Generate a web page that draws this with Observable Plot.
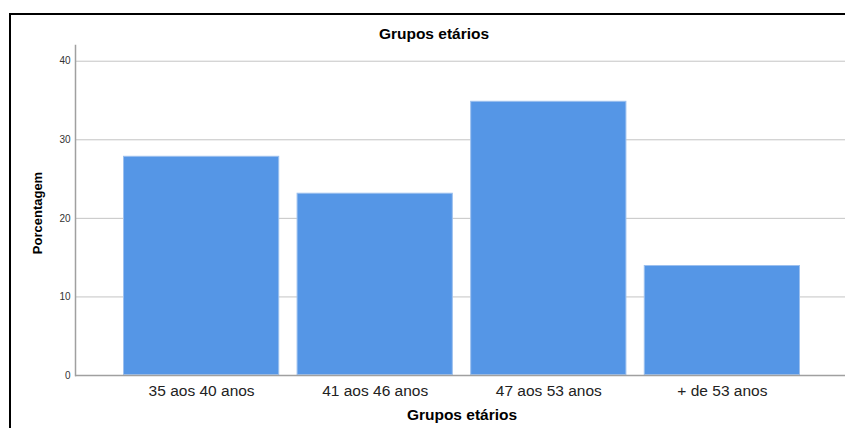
<!DOCTYPE html>
<html>
<head>
<meta charset="utf-8">
<script src="https://cdn.jsdelivr.net/npm/d3@7"></script>
<script src="https://cdn.jsdelivr.net/npm/@observablehq/plot@0.6"></script>
<style>
  html, body { margin: 0; padding: 0; background: #fff; overflow: hidden; }
  #wrap { position: relative; width: 845px; height: 428px; overflow: hidden; font-family: "Liberation Sans", Arial, sans-serif; }
  #frame { position: absolute; left: 9px; top: 13px; width: 900px; height: 500px; border-left: 2.5px solid #000; border-top: 2.5px solid #000; box-sizing: border-box; }
  #title { position: absolute; left: 0; top: 25px; width: 868px; text-align: center; font-weight: bold; font-size: 15.5px; color: #000; }
  #ylabel { position: absolute; left: 37px; top: 213px; transform: translate(-50%, -50%) rotate(-90deg); white-space: nowrap; font-weight: bold; font-size: 13px; color: #000; }
  #chart { position: absolute; left: 0; top: 0; width: 848px; }
  #chart svg { max-width: none !important; }
</style>
</head>
<body>
<div id="wrap">
  <div id="frame"></div>
  <div id="chart"></div>
  <div id="title"></div>
  <div id="ylabel"></div>
</div>
<script>
const categories = ["35 aos 40 anos", "41 aos 46 anos", "47 aos 53 anos", "+ de 53 anos"];
const percentages = [27.9, 23.2, 34.9, 14.0];
const yTicks = [0, 10, 20, 30, 40];
const gridTicks = [10, 20, 30, 40];
const chartTitle = "Grupos etários";
const xLabel = "Grupos etários";
const yLabel = "Porcentagem";

const data = categories.map((c, i) => ({category: c, value: percentages[i]}));

const chart = Plot.plot({
  width: 848,
  height: 428,
  marginLeft: 75,
  marginRight: 0,
  marginTop: 45,
  marginBottom: 53,
  style: {fontFamily: "'Liberation Sans', Arial, sans-serif", background: "transparent", overflow: "visible", maxWidth: "none"},
  x: {domain: categories, paddingInner: 0.1, paddingOuter: 0.2765, round: false, label: null},
  y: {domain: [0, 42], label: null},
  marks: [
    Plot.gridY(gridTicks, {stroke: "#c4c4c4", strokeOpacity: 1, strokeWidth: 1}),
    Plot.barY(data, {x: "category", y: "value", fill: "#5596E6", stroke: "#9cc0ef", strokeWidth: 1, inset: 0.5}),
    Plot.frame({anchor: "left", stroke: "#a0a0a0", strokeWidth: 1.5}),
    Plot.ruleY([0], {stroke: "#a0a0a0", strokeWidth: 1.5}),
    Plot.axisY(yTicks, {tickSize: 0, tickPadding: 5, fontSize: 10, fill: "#333", label: null}),
    Plot.axisX({tickSize: 0, tickPadding: 9, fontSize: 15.5, fill: "#222", label: null}),
    Plot.text([xLabel], {frameAnchor: "bottom", dy: 44, fontSize: 15.5, fontWeight: "bold", fill: "#000"})
  ]
});
document.getElementById("chart").appendChild(chart);
document.getElementById("title").textContent = chartTitle;
document.getElementById("ylabel").textContent = yLabel;
</script>
</body>
</html>
